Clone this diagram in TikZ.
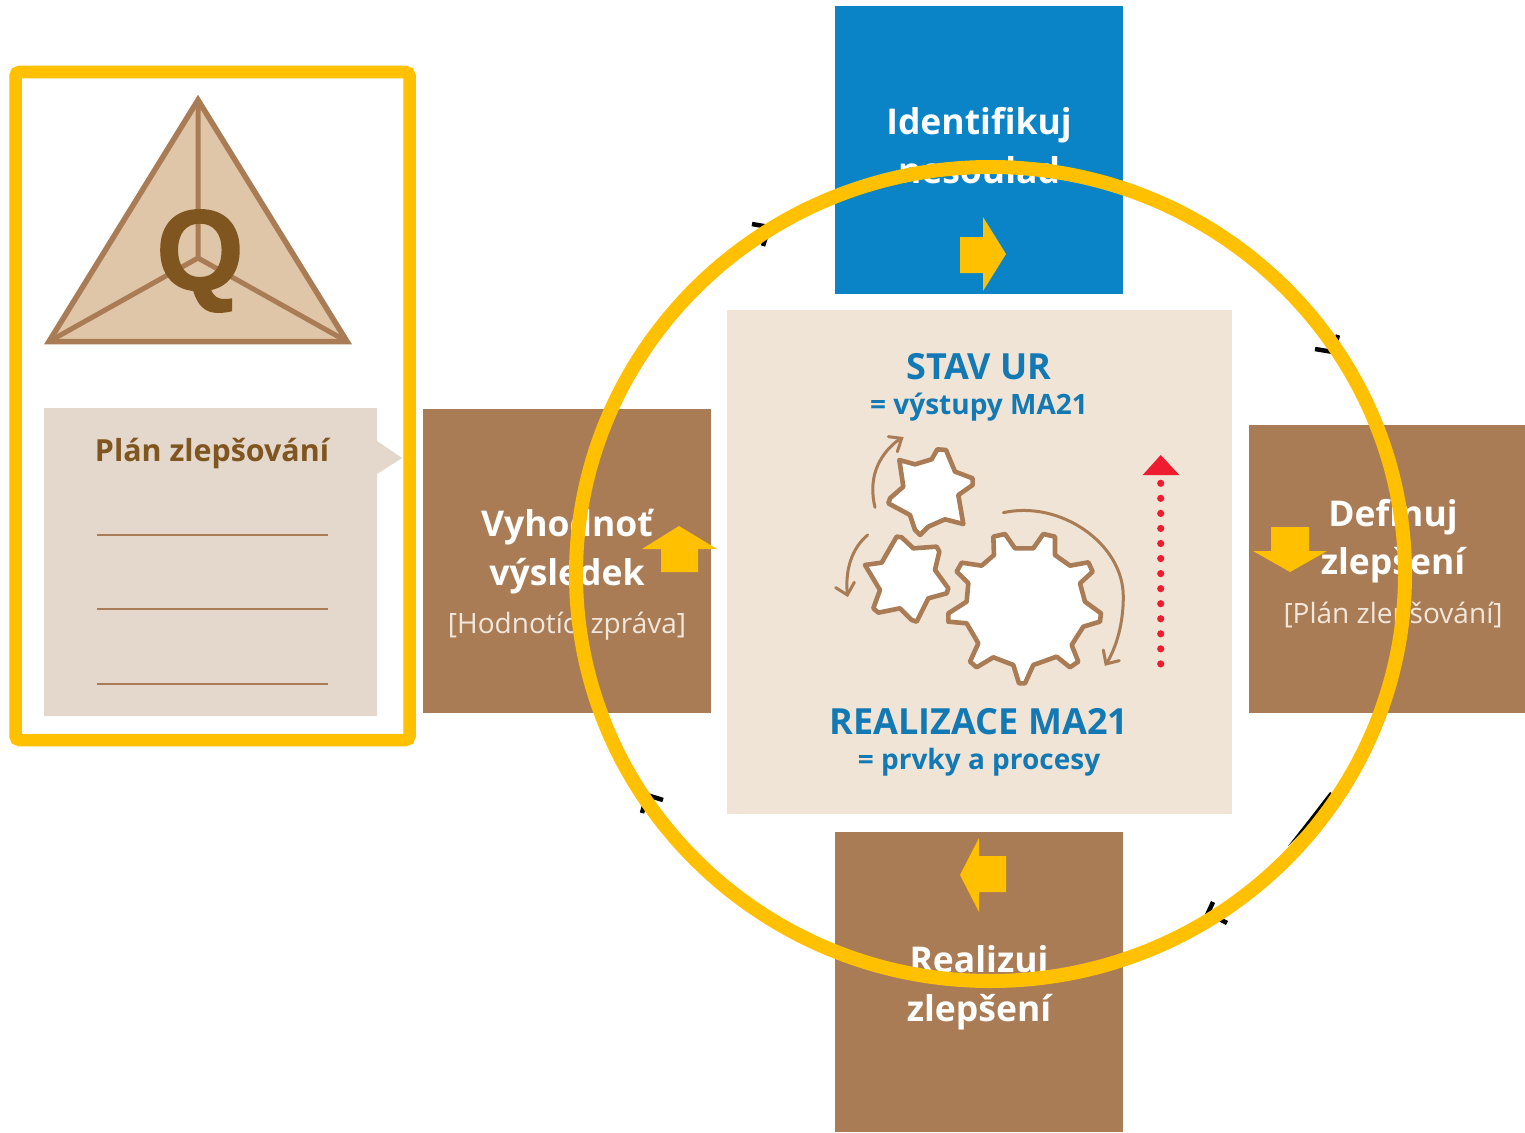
\documentclass[tikz,border=0pt]{standalone}
\usepackage{fontspec}
\setmainfont{Open Sans}
\newfontfamily\qletterfont[FakeBold=1.5]{Liberation Sans Bold}
\definecolor{gold}{HTML}{FFC000}
\definecolor{bluebox}{HTML}{0A84C6}
\definecolor{brownbox}{HTML}{AA7C55}
\definecolor{cream}{HTML}{EFE4D6}
\definecolor{planbg}{HTML}{E3D8CB}
\definecolor{tri}{HTML}{DFC6A8}
\definecolor{darkbrown}{HTML}{7F5520}
\definecolor{headblue}{HTML}{1279B5}
\definecolor{redarrow}{HTML}{EE1C2E}
\definecolor{lighttxt}{HTML}{F1E7DB}
\tikzset{
  panel/.style={fill=brownbox,draw=none},
  bigtxt/.style={font=\fontsize{35.5}{35.5}\selectfont\bfseries,text=white,inner sep=0pt,anchor=base},
  subtxt/.style={font=\fontsize{28}{28}\selectfont,text=lighttxt,inner sep=0pt,anchor=base},
  headtxt/.style={font=\fontsize{36}{36}\selectfont\bfseries,text=headblue,inner sep=0pt,anchor=center},
  head2txt/.style={font=\fontsize{28}{28}\selectfont\bfseries,text=headblue,inner sep=0pt,anchor=center,yshift=-2pt},
  gearline/.style={draw=brownbox,line width=4.6pt,fill=white,line join=round},
  turn/.style={draw=brownbox,line width=3pt,line cap=round,line join=miter},
  rule/.style={draw=brownbox,line width=2.5pt},
  tick/.style={draw=black,line width=4.5pt},
  gmark/.style={fill=gold,draw=none}
}
\begin{document}
\begin{tikzpicture}[x=1pt,y=-1pt]
\useasboundingbox (0,0) rectangle (1525,1132);
\fill[white] (0,0) rectangle (1525,1132);
% panels
\fill[bluebox] (835,6) rectangle (1123,294);
\fill[panel] (423,409) rectangle (711,713);
\fill[panel] (1249,425) rectangle (1525,713);
\fill[panel] (835,832) rectangle (1123,1132);
\fill[cream] (727,310) rectangle (1232,814);
% panel text
\node[bigtxt] (t1) at (979,134.5) {Identifikuj};
\node[bigtxt] (t1b) at (979,183.5) {nesoulad};
\node[bigtxt] (t2) at (567,536) {Vyhodnoť};
\node[bigtxt] (t2b) at (567,585) {výsledek};
\node[subtxt] (t2c) at (567,633) {[Hodnotící zpráva]};
\node[bigtxt] (t3) at (1393,526) {Definuj};
\node[bigtxt] (t3b) at (1393,574.5) {zlepšení};
\node[subtxt] (t3c) at (1393,623) {[Plán zlepšování]};
\node[bigtxt] (t4) at (979,972) {Realizuj};
\node[bigtxt] (t4b) at (979,1021) {zlepšení};
\node[headtxt] (h1) at (979,367) {STAV UR};
\node[head2txt] (h2) at (979,405) {= výstupy MA21};
\node[headtxt] (h3) at (979,722) {REALIZACE MA21};
\node[head2txt] (h4) at (979,760) {= prvky a procesy};
% gears (traced in zoom space)
\begin{scope}[shift={(820,420)},x=0.3333pt,y=-0.3333pt]
\path[gearline] (520,350)--(555,342)--(585,385)--(640,385)--(670,342)--(705,350)--(705,405)--(750,437)--(805,427)--(818,455)--(780,490)--(795,545)--(843,580)--(840,605)--(790,620)--(755,675)--(775,725)--(750,742)--(710,710)--(640,735)--(615,790)--(597,790)--(580,735)--(520,712)--(470,742)--(450,725)--(475,670)--(440,610)--(385,605)--(385,580)--(440,545)--(445,490)--(410,455)--(425,428)--(485,437)--(522,405)--cycle;
\path[gearline] (238,120)--(285,133)--(335,118)--(352,88)--(378,90)--(405,155)--(458,175)--(458,195)--(415,225)--(430,312)--(375,298)--(325,320)--(300,345)--(285,330)--(270,285)--(205,250)--(210,235)--(250,200)--cycle;
\path[gearline] (135,435)--(185,428)--(230,350)--(245,352)--(280,385)--(350,380)--(358,395)--(345,450)--(385,505)--(380,520)--(325,535)--(290,605)--(275,600)--(240,565)--(175,578)--(160,565)--(180,510)--cycle;
\draw[turn] (165,262) .. controls (145,180) and (170,110) .. (235,60);
\draw[turn] (205,50) -- (245,55) -- (232,95);
\draw[turn] (143,345) .. controls (95,385) and (75,450) .. (82,522);
\draw[turn] (47,503) -- (82,525) -- (103,487);
\draw[turn] (550,278) .. controls (720,240) and (910,370) .. (910,530) .. controls (910,610) and (890,680) .. (860,730);
\draw[turn] (850,690) -- (858,732) -- (898,722);
\end{scope}
% red dotted arrow
\fill[redarrow] (1160.7,455) -- (1179.3,475) -- (1142.7,475) -- cycle;
\foreach \k in {0,...,12} \fill[redarrow] (1160.7,483.3+15.05*\k) circle (3.6);
% left column
\draw[draw=brownbox,line width=5.5pt,fill=tri,line join=miter] (198,100) -- (347,341.5) -- (49,341.5) -- cycle;
\draw[draw=brownbox,line width=5pt] (198,100) -- (198,258) (49,341.5) -- (198,258) -- (347,341.5);
\node[text=darkbrown,inner sep=0pt,yscale=1.02] (q) at (200,261) {\qletterfont\fontsize{112}{112}\selectfont Q};
\fill[planbg] (44,408) -- (377,408) -- (377,441) -- (402,458) -- (377,474) -- (377,716) -- (44,716) -- cycle;
\node[font=\fontsize{30.4}{30.4}\selectfont\bfseries,text=darkbrown,inner sep=0pt,yshift=-3.5pt] (plan) at (212,450) {Plán zlepšování};
\draw[rule] (97,535) -- (328,535);
\draw[rule] (97,609) -- (328,609);
\draw[rule] (97,684) -- (328,684);
% stray connector ends under the ring
\draw[tick] (752,224) -- (769,227) -- (763,246);
\draw[tick] (1315,349) -- (1333,352) -- (1338,335);
\draw[tick] (663,800) -- (647,795) -- (642,813);
\draw[tick] (1213,902) -- (1208,913) -- (1227,923);
\fill[black] (1330,792) -- (1333,794) -- (1312,822) -- (1288,846) -- (1310,818) -- cycle;
% ring
\draw[draw=gold,line width=14pt] (990.5,574) ellipse [x radius=414.5,y radius=407];
\draw[draw=gold,line width=12.5pt,rounded corners=4pt] (15.5,72) rectangle (409.5,740);
% gold arrows
\fill[gmark] (960,237) -- (983,237) -- (983,217) -- (1006,254) -- (983,291) -- (983,273) -- (960,273) -- cycle;
\fill[gmark] (1006,856) -- (979,856) -- (979,838) -- (960,875) -- (979,912) -- (979,892) -- (1006,892) -- cycle;
\fill[gmark] (661,572) -- (661,549) -- (642,549) -- (679,526) -- (717,549) -- (698,549) -- (698,572) -- cycle;
\fill[gmark] (1271,527) -- (1309,527) -- (1309,551) -- (1327,551) -- (1290,572) -- (1253,551) -- (1271,551) -- cycle;
\end{tikzpicture}
\end{document}
